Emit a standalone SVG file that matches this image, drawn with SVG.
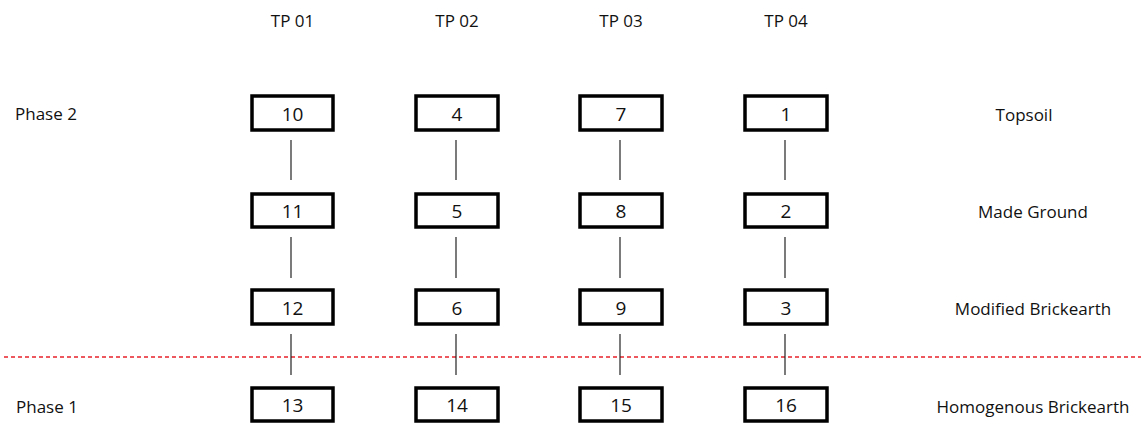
<svg xmlns="http://www.w3.org/2000/svg" width="1141" height="427" viewBox="0 0 1141 427">
  <style>
    text { font-family: "Open Sans", "Noto Sans", "Liberation Sans", sans-serif; font-size: 17px; fill: #111111; }
    .c { text-anchor: middle; }
    .num { font-size: 19px; }
    .box { fill: #ffffff; stroke: #000000; stroke-width: 3.5; }
    .link { stroke: #222222; stroke-width: 1.2; }
    .phase { stroke: #e8222a; stroke-width: 1.3; stroke-dasharray: 4 3; fill: none; }
  </style>
  <rect width="1141" height="427" fill="#ffffff"/>

  <!-- column headings -->
  <g id="headings">
    <text class="c" x="292.5" y="27">TP 01</text>
    <text class="c" x="457" y="27">TP 02</text>
    <text class="c" x="621" y="27">TP 03</text>
    <text class="c" x="786" y="27">TP 04</text>
  </g>

  <!-- phase and layer labels -->
  <g id="labels">
    <text x="15" y="119.5">Phase 2</text>
    <text x="16" y="413">Phase 1</text>
    <text class="c" x="1024" y="120.5">Topsoil</text>
    <text class="c" x="1033" y="218">Made Ground</text>
    <text class="c" x="1033" y="315">Modified Brickearth</text>
    <text class="c" x="1033" y="413">Homogenous Brickearth</text>
  </g>

  <!-- phase boundary -->
  <line class="phase" x1="4" y1="357" x2="1141" y2="357"/>

  <!-- connectors -->
  <g id="connectors">
    <line class="link" x1="291" y1="140" x2="291" y2="180"/>
    <line class="link" x1="291" y1="237" x2="291" y2="278"/>
    <line class="link" x1="291" y1="334" x2="291" y2="375"/>
    <line class="link" x1="456" y1="140" x2="456" y2="180"/>
    <line class="link" x1="456" y1="237" x2="456" y2="278"/>
    <line class="link" x1="456" y1="334" x2="456" y2="375"/>
    <line class="link" x1="620" y1="140" x2="620" y2="180"/>
    <line class="link" x1="620" y1="237" x2="620" y2="278"/>
    <line class="link" x1="620" y1="334" x2="620" y2="375"/>
    <line class="link" x1="785" y1="140" x2="785" y2="180"/>
    <line class="link" x1="785" y1="237" x2="785" y2="278"/>
    <line class="link" x1="785" y1="334" x2="785" y2="375"/>
  </g>

  <!-- TP 01 -->
  <g id="n10"><rect class="box" x="252" y="96" width="81" height="34"/><text class="c num" x="292.5" y="121">10</text></g>
  <g id="n11"><rect class="box" x="252" y="194" width="81" height="33"/><text class="c num" x="292.5" y="218">11</text></g>
  <g id="n12"><rect class="box" x="252" y="290" width="81" height="34"/><text class="c num" x="292.5" y="315">12</text></g>
  <g id="n13"><rect class="box" x="252" y="388" width="81" height="33"/><text class="c num" x="292.5" y="412">13</text></g>

  <!-- TP 02 -->
  <g id="n4"><rect class="box" x="416" y="96" width="82" height="34"/><text class="c num" x="457" y="121">4</text></g>
  <g id="n5"><rect class="box" x="416" y="194" width="82" height="33"/><text class="c num" x="457" y="218">5</text></g>
  <g id="n6"><rect class="box" x="416" y="290" width="82" height="34"/><text class="c num" x="457" y="315">6</text></g>
  <g id="n14"><rect class="box" x="416" y="388" width="82" height="33"/><text class="c num" x="457" y="412">14</text></g>

  <!-- TP 03 -->
  <g id="n7"><rect class="box" x="580" y="96" width="82" height="34"/><text class="c num" x="621" y="121">7</text></g>
  <g id="n8"><rect class="box" x="580" y="194" width="82" height="33"/><text class="c num" x="621" y="218">8</text></g>
  <g id="n9"><rect class="box" x="580" y="290" width="82" height="34"/><text class="c num" x="621" y="315">9</text></g>
  <g id="n15"><rect class="box" x="580" y="388" width="82" height="33"/><text class="c num" x="621" y="412">15</text></g>

  <!-- TP 04 -->
  <g id="n1"><rect class="box" x="745" y="96" width="82" height="34"/><text class="c num" x="786" y="121">1</text></g>
  <g id="n2"><rect class="box" x="745" y="194" width="82" height="33"/><text class="c num" x="786" y="218">2</text></g>
  <g id="n3"><rect class="box" x="745" y="290" width="82" height="34"/><text class="c num" x="786" y="315">3</text></g>
  <g id="n16"><rect class="box" x="745" y="388" width="82" height="33"/><text class="c num" x="786" y="412">16</text></g>
</svg>
